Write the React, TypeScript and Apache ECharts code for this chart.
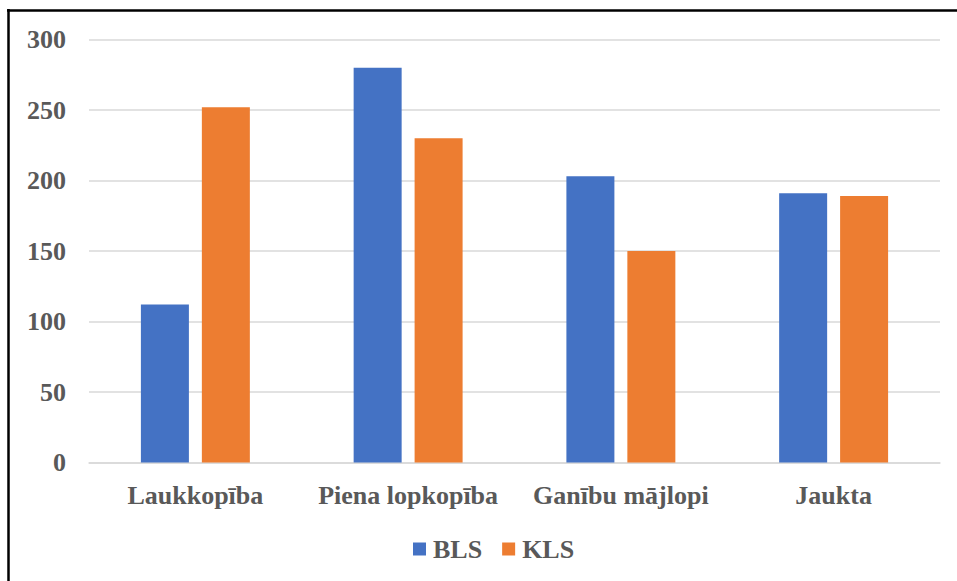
import React, { useEffect, useRef } from "react";
import * as echarts from "echarts";

const categories = ["Laukkopība", "Piena lopkopība", "Ganību mājlopi", "Jaukta"];
const blsValues = [112, 280, 203, 191];
const klsValues = [252, 230, 150, 189];
const seriesNames = ["BLS", "KLS"];

const FONT = "'Liberation Serif', 'Times New Roman', serif";
const TEXT_COLOR = "#595959";

export default function App() {
  const ref = useRef<HTMLDivElement>(null);

  useEffect(() => {
    if (!ref.current) return;
    const chart = echarts.init(ref.current, undefined, { renderer: "svg" });
    chart.setOption({
      animation: false,
      backgroundColor: "#ffffff",
      // frame edges along the top and left
      graphic: [
        {
          type: "line",
          shape: { x1: 7, y1: 10.5, x2: 957, y2: 10.5 },
          style: { stroke: "#000000", lineWidth: 2.5 },
          silent: true,
        },
        {
          type: "line",
          shape: { x1: 8.5, y1: 9, x2: 8.5, y2: 581 },
          style: { stroke: "#000000", lineWidth: 2.5 },
          silent: true,
        },
      ],
      grid: { left: 89, right: 17, top: 39.5, bottom: 118.5 },
      legend: {
        data: seriesNames,
        bottom: 14,
        left: 408,
        itemWidth: 13,
        itemHeight: 13,
        itemGap: 20,
        icon: "rect",
        textStyle: {
          fontFamily: FONT,
          fontWeight: "bold",
          fontSize: 26,
          color: TEXT_COLOR,
          padding: [0, 0, 0, 2],
        },
      },
      xAxis: {
        type: "category",
        data: categories,
        axisTick: { show: false },
        axisLine: { lineStyle: { color: "#d9d9d9", width: 1.5 } },
        axisLabel: {
          interval: 0,
          fontFamily: FONT,
          fontWeight: "bold",
          fontSize: 26,
          color: TEXT_COLOR,
          margin: 20,
        },
      },
      yAxis: {
        type: "value",
        min: 0,
        max: 300,
        interval: 50,
        axisLine: { show: false },
        axisTick: { show: false },
        splitLine: { lineStyle: { color: "#d9d9d9", width: 1.5 } },
        axisLabel: {
          fontFamily: FONT,
          fontWeight: "bold",
          fontSize: 26,
          color: TEXT_COLOR,
          margin: 23,
        },
      },
      series: [
        {
          name: seriesNames[0],
          type: "bar",
          data: blsValues,
          barWidth: 48,
          barGap: "27%",
          itemStyle: { color: "#4472C4" },
        },
        {
          name: seriesNames[1],
          type: "bar",
          data: klsValues,
          barWidth: 48,
          barGap: "27%",
          itemStyle: { color: "#ED7D31" },
        },
      ],
    });
    return () => chart.dispose();
  }, []);

  return (
    <div
      ref={ref}
      style={{ position: "fixed", left: 0, top: 0, width: 957, height: 581 }}
    />
  );
}
